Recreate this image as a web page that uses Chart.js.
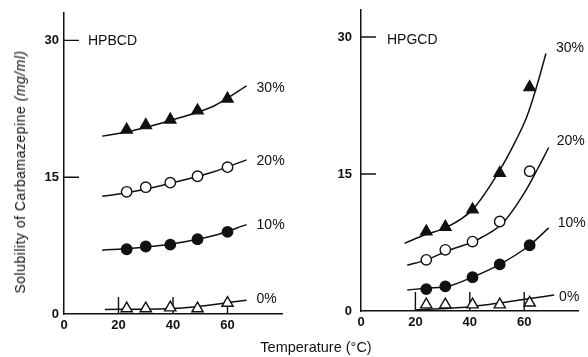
<!DOCTYPE html>
<html>
<head>
<meta charset="utf-8">
<script src="https://cdn.jsdelivr.net/npm/chart.js@4.4.1/dist/chart.umd.min.js"></script>
<style>
  body { margin: 0; background: #fff; width: 588px; height: 357px; position: relative; overflow: hidden;
         font-family: "Liberation Sans", Arial, sans-serif; color: #111; }
  .panel { position: absolute; top: 0; height: 357px; }
  #left { left: 0; width: 300px; }
  #right { left: 300px; width: 288px; }
  #ytitle { position: absolute; left: 20px; top: 172px; transform: translate(-50%, -50%) rotate(-90deg);
            white-space: nowrap; font-size: 14px; letter-spacing: 0.5px; }
  #xtitle { position: absolute; left: 316px; top: 347px; transform: translate(-50%, -50%);
            white-space: nowrap; font-size: 14.5px; }
</style>
</head>
<body>
<div class="panel" id="left"><canvas id="hpbcd-chart"></canvas></div>
<div class="panel" id="right"><canvas id="hpgcd-chart"></canvas></div>
<div id="ytitle">Solubility of Carbamazepine <i>(mg/ml)</i></div>
<div id="xtitle">Temperature (°C)</div>
<script>
// ticks and labels
const xTicks = [0, 20, 40, 60];
const yTicks = [0, 15, 30];
const seriesLabels = ['30%', '20%', '10%', '0%'];

// HPBCD measured points
const tempsB = [23, 30, 39, 49, 60];
const hpbcd30 = [20.2, 20.7, 21.3, 22.3, 23.6];
const hpbcd20 = [13.4, 13.9, 14.4, 15.1, 16.1];
const hpbcd10 = [7.1, 7.4, 7.6, 8.2, 9.0];
const hpbcd0 = [0.6, 0.6, 0.7, 0.6, 1.2];

// HPBCD fitted curves, [temp, value]
const fitB30 = [[14, 19.5], [25, 20.1], [40, 21.3], [55, 22.8], [67, 25.0]];
const fitB20 = [[14, 12.9], [25, 13.4], [40, 14.4], [55, 15.6], [67, 16.9]];
const fitB10 = [[14, 7.0], [25, 7.2], [40, 7.7], [55, 8.6], [67, 9.8]];
const fitB0 = [[15, 0.5], [40, 0.6], [67, 1.5]];

// HPGCD measured points
const tempsG = [24, 31, 41, 51, 62];
const hpgcd30 = [8.7, 9.2, 11.1, 15.1, 24.5];
const hpgcd20 = [5.6, 6.7, 7.6, 9.8, 15.3];
const hpgcd10 = [2.4, 2.7, 3.7, 5.1, 7.2];
const hpgcd0 = [0.7, 0.7, 0.7, 0.7, 0.9];

// HPGCD fitted curves
const fitG30 = [[16, 7.4], [24, 8.4], [31, 9.1], [41, 11.1], [51, 15.4], [57, 18.7], [61, 21.3], [64, 24.0], [68, 28.2]];
const fitG20 = [[17, 5.0], [24, 5.6], [32, 6.6], [42, 7.7], [52, 9.6], [60, 12.9], [65, 15.6], [69, 17.9]];
const fitG10 = [[17, 2.3], [24, 2.5], [32, 2.7], [41, 3.7], [51, 5.1], [62, 7.2], [69, 9.1]];
const fitG0 = [[20, 0.1], [41, 0.5], [71, 1.75]];

const ink = '#111';
const fontFamily = '"Liberation Sans", Arial, sans-serif';

function curve(pts) {
    return {
        data: pts.map(p => ({ x: p[0], y: p[1] })),
        borderColor: ink,
        borderWidth: 1.5,
        pointRadius: 0,
        cubicInterpolationMode: 'monotone',
        fill: false
    };
}

function marks(temps, vals, style, filled) {
    return {
        data: temps.map((t, i) => ({ x: t, y: vals[i] })),
        showLine: false,
        pointStyle: style,
        pointRadius: style === 'triangle' ? 6.5 : 5.2,
        pointBackgroundColor: filled ? ink : '#fff',
        pointBorderColor: ink,
        pointBorderWidth: 1.4
    };
}

// short ticks drawn inward from the axes, as in the figure
const inwardTicks = {
    id: 'inwardTicks',
    beforeDatasetsDraw(chart, args, opts) {
        const { ctx, scales: { x, y } } = chart;
        ctx.save();
        ctx.strokeStyle = ink;
        ctx.lineWidth = 1.4;
        ctx.beginPath();
        yTicks.filter(v => v > 0).forEach(v => {
            const py = y.getPixelForValue(v);
            ctx.moveTo(x.left, py);
            ctx.lineTo(x.left + opts.yLen, py);
        });
        xTicks.filter(v => v > 0).forEach(v => {
            const px = x.getPixelForValue(v);
            ctx.moveTo(px, y.bottom);
            ctx.lineTo(px, y.bottom - opts.xLen);
        });
        ctx.stroke();
        ctx.restore();
    }
};

// % labels at curve ends + panel name
const curveLabels = {
    id: 'curveLabels',
    afterDatasetsDraw(chart, args, opts) {
        const { ctx, scales: { x, y } } = chart;
        ctx.save();
        ctx.font = '14px ' + fontFamily;
        ctx.fillStyle = ink;
        ctx.textBaseline = 'middle';
        opts.curves.forEach((c, i) => {
            const last = c[c.length - 1];
            const off = opts.offsets[i];
            ctx.fillText(seriesLabels[i], x.getPixelForValue(last[0]) + off[0], y.getPixelForValue(last[1]) + off[1]);
        });
        ctx.fillText(opts.name, x.left + opts.nameX, y.getPixelForValue(30) + opts.nameY);
        ctx.restore();
    }
};

function panelOptions(cfg) {
    return {
        responsive: true,
        maintainAspectRatio: false,
        animation: false,
        layout: { padding: cfg.padding },
        plugins: {
            legend: { display: false },
            tooltip: { enabled: false },
            inwardTicks: { yLen: 15, xLen: cfg.xLen },
            curveLabels: cfg.labels
        },
        scales: {
            x: {
                type: 'linear',
                min: 0,
                max: 80,
                grid: { display: false, drawTicks: false },
                border: { color: ink, width: 1.5 },
                afterBuildTicks: s => { s.ticks = xTicks.map(v => ({ value: v })); },
                afterFit: s => { s.height = cfg.xHeight; },
                ticks: { color: ink, font: { family: fontFamily, size: 13, weight: 'bold' }, padding: 4, maxRotation: 0, autoSkip: false }
            },
            y: {
                min: 0,
                max: 33,
                grid: { display: false, drawTicks: false },
                border: { color: ink, width: 1.5 },
                afterBuildTicks: s => { s.ticks = yTicks.map(v => ({ value: v })); },
                // fixed width; drop the label padding so layout.padding sets the top
                afterFit: s => { s.width = cfg.yWidth; s.paddingTop = 0; s.paddingBottom = 0; },
                ticks: { color: ink, font: { family: fontFamily, size: 13, weight: 'bold' }, padding: cfg.yPad }
            }
        }
    };
}

new Chart(document.getElementById('hpbcd-chart'), {
    type: 'line',
    data: {
        datasets: [
            marks(tempsB, hpbcd30, 'triangle', true),
            marks(tempsB, hpbcd20, 'circle', false),
            marks(tempsB, hpbcd10, 'circle', true),
            marks(tempsB, hpbcd0, 'triangle', false),
            curve(fitB30),
            curve(fitB20),
            curve(fitB10),
            curve(fitB0)
        ]
    },
    options: panelOptions({
        padding: { top: 13, right: 18, bottom: 0, left: 0 },
        yWidth: 64,
        xHeight: 43,
        xLen: 17,
        yPad: 5,
        labels: {
            name: 'HPBCD',
            nameX: 24,
            nameY: 1,
            curves: [fitB30, fitB20, fitB10, fitB0],
            offsets: [[10, 2], [10, 1], [10, 1], [10, -1]]
        }
    }),
    plugins: [inwardTicks, curveLabels]
});

new Chart(document.getElementById('hpgcd-chart'), {
    type: 'line',
    data: {
        datasets: [
            marks(tempsG, hpgcd30, 'triangle', true),
            marks(tempsG, hpgcd20, 'circle', false),
            marks(tempsG, hpgcd10, 'circle', true),
            marks(tempsG, hpgcd0, 'triangle', false),
            curve(fitG30),
            curve(fitG20),
            curve(fitG10),
            curve(fitG0)
        ]
    },
    options: panelOptions({
        padding: { top: 9.6, right: 9.4, bottom: 0, left: 0 },
        yWidth: 61,
        xHeight: 46,
        xLen: 19,
        yPad: 9,
        labels: {
            name: 'HPGCD',
            nameX: 26,
            nameY: 3,
            curves: [fitG30, fitG20, fitG10, fitG0],
            offsets: [[10, -5], [8, -6], [9, -5], [5, 2]]
        }
    }),
    plugins: [inwardTicks, curveLabels]
});
</script>
</body>
</html>
